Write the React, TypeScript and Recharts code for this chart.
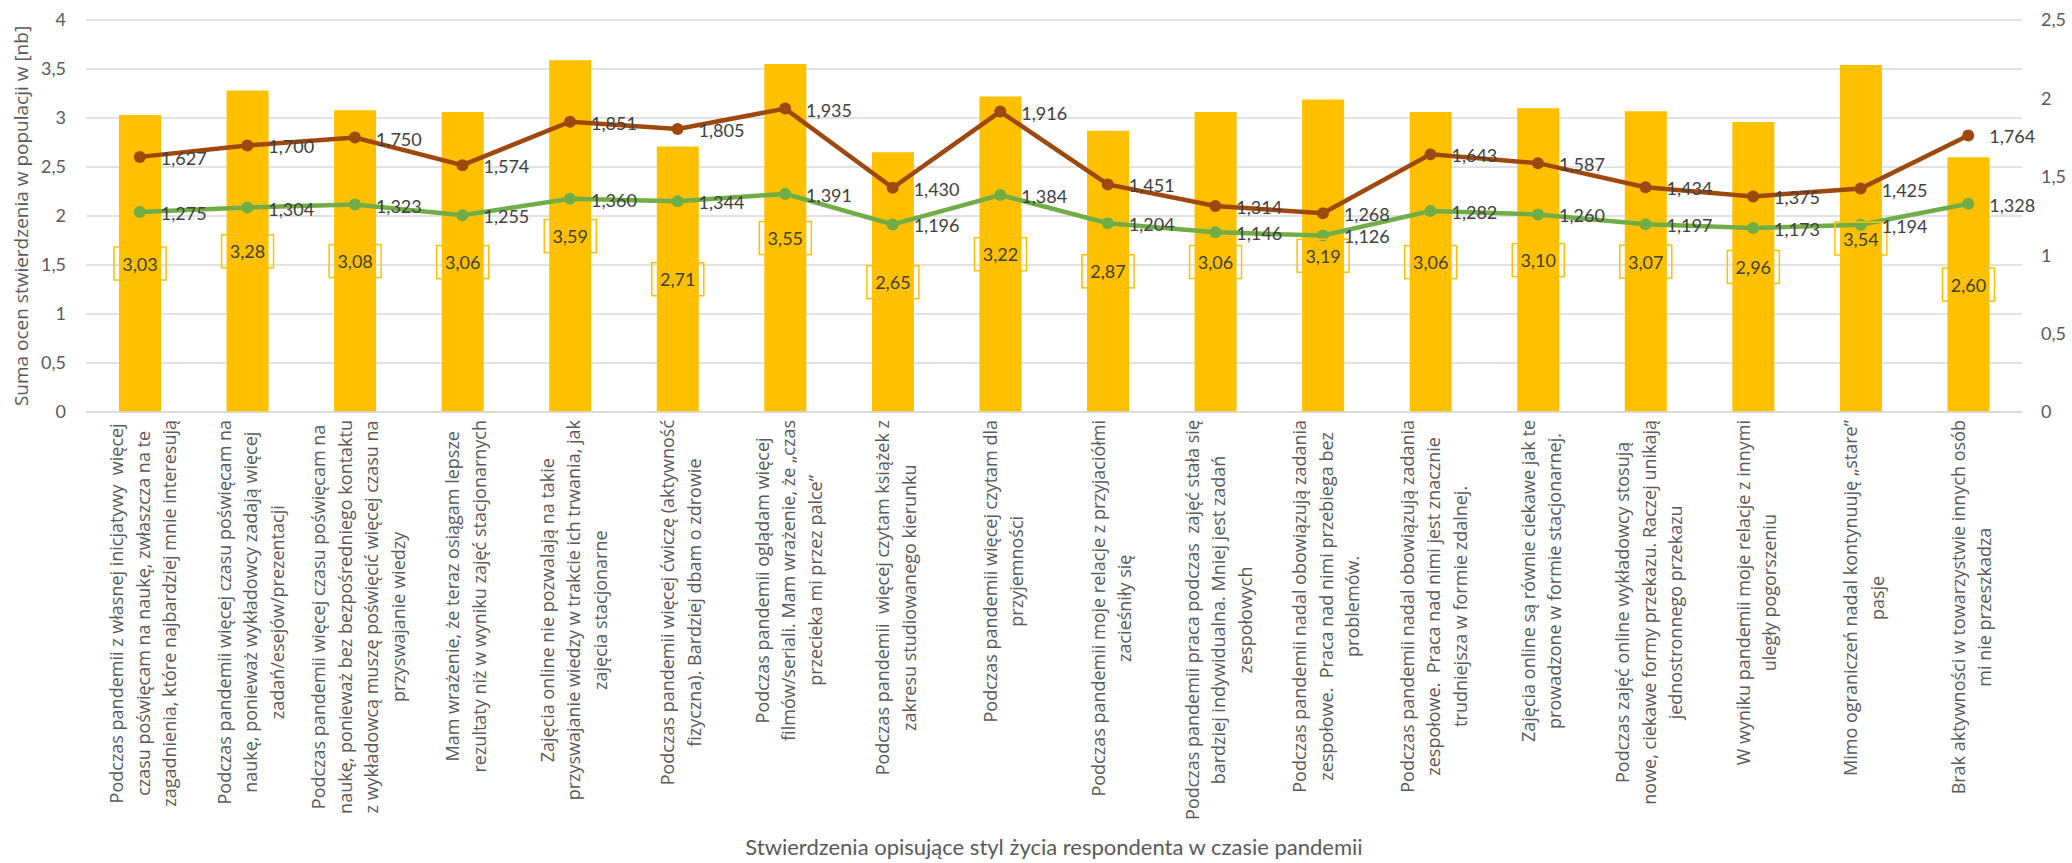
import { ComposedChart, Bar, Line, XAxis, YAxis, CartesianGrid, LabelList } from "recharts";

// statements (x categories), split into lines as in the original
const STATEMENTS: string[][] = [
  ["Podczas pandemii z własnej inicjatywy  więcej", "czasu poświęcam na naukę, zwłaszcza na te", "zagadnienia, które najbardziej mnie interesują"],
  ["Podczas pandemii więcej czasu poświęcam na", "naukę, ponieważ wykładowcy zadają więcej", "zadań/esejów/prezentacji"],
  ["Podczas pandemii więcej czasu poświęcam na", "naukę, ponieważ bez bezpośredniego kontaktu", "z wykładowcą muszę poświęcić więcej czasu na", "przyswajanie wiedzy"],
  ["Mam wrażenie, że teraz osiągam lepsze", "rezultaty niż w wyniku zajęć stacjonarnych"],
  ["Zajęcia online nie pozwalają na takie", "przyswajanie wiedzy w trakcie ich trwania, jak", "zajęcia stacjonarne"],
  ["Podczas pandemii więcej ćwiczę (aktywność", "fizyczna). Bardziej dbam o zdrowie"],
  ["Podczas pandemii oglądam więcej", "filmów/seriali. Mam wrażenie, że „czas", "przecieka mi przez palce”"],
  ["Podczas pandemii  więcej czytam książek z", "zakresu studiowanego kierunku"],
  ["Podczas pandemii więcej czytam dla", "przyjemności"],
  ["Podczas pandemii moje relacje z przyjaciółmi", "zacieśniły się"],
  ["Podczas pandemii praca podczas  zajęć stała się", "bardziej indywidualna. Mniej jest zadań", "zespołowych"],
  ["Podczas pandemii nadal obowiązują zadania", "zespołowe.  Praca nad nimi przebiega bez", "problemów."],
  ["Podczas pandemii nadal obowiązują zadania", "zespołowe.  Praca nad nimi jest znacznie", "trudniejsza w formie zdalnej."],
  ["Zajęcia online są równie ciekawe jak te", "prowadzone w formie stacjonarnej."],
  ["Podczas zajęć online wykładowcy stosują", "nowe, ciekawe formy przekazu. Raczej unikają", "jednostronnego przekazu"],
  ["W wyniku pandemii moje relacje z innymi", "uległy pogorszeniu"],
  ["Mimo ograniczeń nadal kontynuuję „stare”", "pasje"],
  ["Brak aktywności w towarzystwie innych osób", "mi nie przeszkadza"],
];

const SUM_SCORES = [3.03, 3.28, 3.08, 3.06, 3.59, 2.71, 3.55, 2.65, 3.22, 2.87, 3.06, 3.19, 3.06, 3.1, 3.07, 2.96, 3.54, 2.6];
const BROWN_VALUES = [1.627, 1.7, 1.75, 1.574, 1.851, 1.805, 1.935, 1.43, 1.916, 1.451, 1.314, 1.268, 1.643, 1.587, 1.434, 1.375, 1.425, 1.764];
const GREEN_VALUES = [1.275, 1.304, 1.323, 1.255, 1.36, 1.344, 1.391, 1.196, 1.384, 1.204, 1.146, 1.126, 1.282, 1.26, 1.197, 1.173, 1.194, 1.328];

const LEFT_TICKS = [0, 0.5, 1, 1.5, 2, 2.5, 3, 3.5, 4];
const RIGHT_TICKS = [0, 0.5, 1, 1.5, 2, 2.5];

const Y_TITLE = "Suma ocen stwierdzenia w populacji w [nb]";
const X_TITLE = "Stwierdzenia opisujące styl życia respondenta w czasie pandemii";

const data = STATEMENTS.map((lines, i) => ({
  name: `s${i + 1}`,
  sum: SUM_SCORES[i],
  brown: BROWN_VALUES[i],
  green: GREEN_VALUES[i],
}));

const NUM_FONT = "Lato, 'Liberation Sans', sans-serif";
const CAT_FONT = "'Open Sans', sans-serif";
const CAT_SIZE = 18;
const CAT_LH = 26.5;

const fmt = (v: number, d: number) => v.toFixed(d).replace(".", ",");
const fmtTick = (v: number) => String(v).replace(".", ",");

const ctx = document.createElement("canvas").getContext("2d")!;
const textWidth = (s: string) => {
  ctx.font = `${CAT_SIZE}px ${CAT_FONT}`;
  return ctx.measureText(s).width;
};

const StatementTick = ({ x, y, payload }: any) => {
  const lines = STATEMENTS[payload.index] || [];
  const maxW = Math.max(...lines.map(textWidth));
  const cy = y + 8 + maxW / 2;
  const n = lines.length;
  return (
    <g>
      {lines.map((l, i) => (
        <text
          key={i}
          transform={`translate(${x + 3 + (i - (n - 1) / 2) * CAT_LH}, ${cy}) rotate(-90)`}
          textAnchor="middle"
          dominantBaseline="central"
          fontFamily={CAT_FONT}
          fontSize={CAT_SIZE}
          fill="#595959"
          style={{ whiteSpace: "pre" }}
        >
          {l}
        </text>
      ))}
    </g>
  );
};

const BarBoxLabel = ({ x, y, width, height, value }: any) => {
  const cx = x + width / 2;
  const cy = y + height / 2;
  return (
    <g>
      <rect x={cx - 26} y={cy - 16.5} width={52} height={33} fill="none" stroke="#FFC000" strokeWidth={1.5} />
      <text x={cx} y={cy} textAnchor="middle" dominantBaseline="central" fontFamily={NUM_FONT} fontSize={18} fill="#404040">
        {fmt(value, 2)}
      </text>
    </g>
  );
};

const PointLabel = ({ x, y, value }: any) => (
  <text x={x + 21} y={y + 1} dominantBaseline="central" fontFamily={NUM_FONT} fontSize={18} fill="#404040">
    {fmt(value, 3)}
  </text>
);

const YTitle = ({ viewBox }: any) => {
  const cx = 21;
  const cy = viewBox.y + viewBox.height / 2;
  return (
    <text
      transform={`translate(${cx}, ${cy}) rotate(-90)`}
      textAnchor="middle"
      dominantBaseline="central"
      fontFamily={CAT_FONT}
      fontSize={19}
      fill="#595959"
    >
      {Y_TITLE}
    </text>
  );
};

const XTitle = ({ viewBox }: any) => (
  <text
    x={viewBox.x + viewBox.width / 2}
    y={846}
    textAnchor="middle"
    dominantBaseline="central"
    fontFamily={NUM_FONT}
    fontSize={22}
    fill="#595959"
  >
    {X_TITLE}
  </text>
);

export default function App() {
  return (
    <div style={{ position: "absolute", left: 0, top: 0, width: 2072, height: 863, background: "#fff" }}>
      <ComposedChart width={2072} height={863} data={data} margin={{ top: 20, right: 0, bottom: 0, left: 0 }} barSize={42}>
        <CartesianGrid yAxisId="left" vertical={false} stroke="#D9D9D9" strokeWidth={1.5} />
        <XAxis
          dataKey="name"
          height={451}
          interval={0}
          tickLine={false}
          tickSize={0}
          tickMargin={0}
          axisLine={{ stroke: "#D9D9D9", strokeWidth: 1.5 }}
          tick={<StatementTick />}
          label={{ content: XTitle }}
        />
        <YAxis
          yAxisId="left"
          width={86}
          domain={[0, 4]}
          ticks={LEFT_TICKS}
          tickFormatter={fmtTick}
          axisLine={false}
          tickLine={false}
          tickSize={0}
          tickMargin={20}
          tick={{ fontFamily: NUM_FONT, fontSize: 18, fill: "#595959" }}
          label={{ content: YTitle }}
        />
        <YAxis
          yAxisId="right"
          orientation="right"
          width={50}
          domain={[0, 2.5]}
          ticks={RIGHT_TICKS}
          tickFormatter={fmtTick}
          axisLine={false}
          tickLine={false}
          tickSize={0}
          tickMargin={19}
          tick={{ fontFamily: NUM_FONT, fontSize: 18, fill: "#595959", textAnchor: "start" }}
        />
        <Bar yAxisId="left" dataKey="sum" fill="#FFC000" isAnimationActive={false}>
          <LabelList dataKey="sum" content={BarBoxLabel} />
        </Bar>
        <Line
          yAxisId="right"
          dataKey="green"
          stroke="#70AD47"
          strokeWidth={4.5}
          dot={{ r: 6, fill: "#70AD47", stroke: "none" }}
          activeDot={false}
          isAnimationActive={false}
        >
          <LabelList dataKey="green" content={PointLabel} />
        </Line>
        <Line
          yAxisId="right"
          dataKey="brown"
          stroke="#9E480E"
          strokeWidth={4.5}
          dot={{ r: 6, fill: "#9E480E", stroke: "none" }}
          activeDot={false}
          isAnimationActive={false}
        >
          <LabelList dataKey="brown" content={PointLabel} />
        </Line>
      </ComposedChart>
    </div>
  );
}
